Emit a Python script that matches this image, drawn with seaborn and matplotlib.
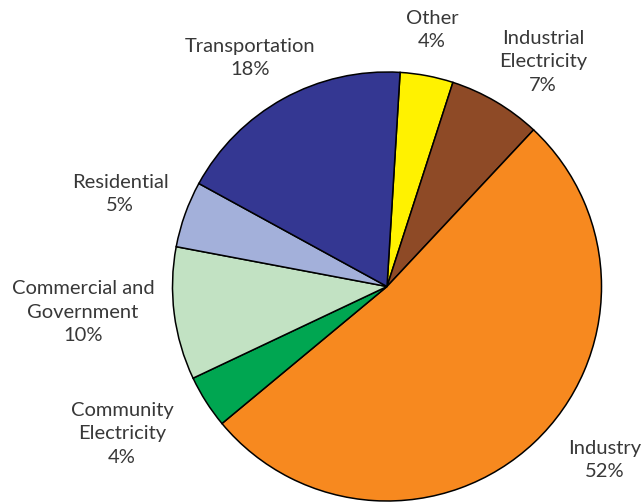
import matplotlib
matplotlib.use("Agg")
import matplotlib.pyplot as plt
import seaborn as sns

# Energy use shares by sector, listed clockwise from the top
sectors = ["Other", "Industrial\nElectricity", "Industry", "Community\nElectricity",
           "Commercial and\nGovernment", "Residential", "Transportation"]
shares = [4, 7, 52, 4, 10, 5, 18]
colors = ["#FFF200", "#8E4A26", "#F7891F", "#00A651", "#C2E2C3", "#A3B0DA", "#343792"]

# Label anchor points (pixel coordinates from the top-left corner)
label_xy = [(432, 30), (543, 62), (605, 460), (122, 434), (83, 312), (120, 194), (250, 58)]

sns.set_theme(style="white")
plt.rcParams["font.family"] = ["Lato", "DejaVu Sans"]

W, H = 643, 504
fig = plt.figure(figsize=(W / 100, H / 100), dpi=100)
ax = fig.add_axes([0, 0, 1, 1])

cx, cy, r = 387, H - 286.5, 214.5
ax.pie(shares, colors=colors, startangle=86.5, counterclock=False,
       center=(cx, cy), radius=r, frame=True,
       wedgeprops=dict(edgecolor="black", linewidth=1.1))
ax.set_xlim(0, W)
ax.set_ylim(0, H)
ax.set_aspect("equal")
ax.axis("off")

for name, val, (x, y) in zip(sectors, shares, label_xy):
    ax.text(x, H - y, f"{name}\n{val}%", ha="center", va="center",
            fontsize=14.5, color="#383838", linespacing=1.45)

fig.savefig("out.png", dpi=100)
